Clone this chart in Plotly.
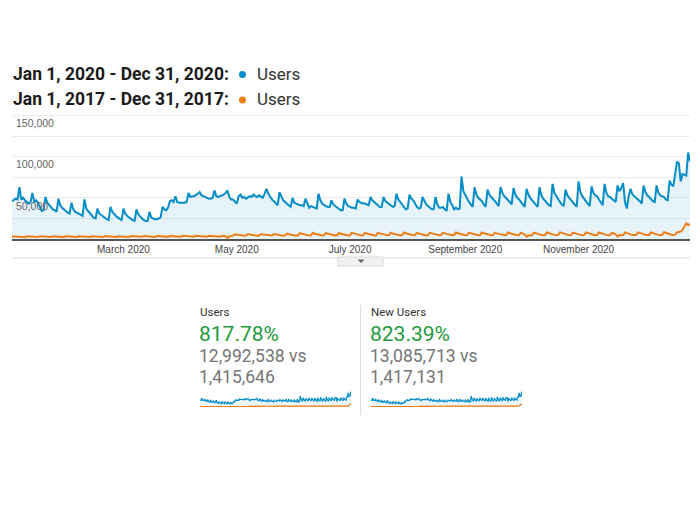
import pandas as pd
import plotly.graph_objects as go

# ---------------- data ----------------
dates = pd.date_range("2020-01-01", "2020-12-31", freq="D")

users_2020 = [
    46000, 47000, 49000, 48000, 63000, 48000, 50000,
    47000, 45000, 43000, 45000, 56000, 45000, 47000,
    44000, 38000, 34000, 35000, 51000, 44000, 41000,
    39000, 36000, 35000, 33000, 49000, 41000, 38000,
    36000, 33000, 32000, 31000, 44000, 36000, 33000,
    32000, 31000, 30000, 28000, 48000, 37000, 34000,
    31000, 29000, 26000, 25000, 37000, 31000, 29000,
    27000, 25000, 24000, 23000, 39000, 33000, 30000,
    28000, 26000, 24000, 23000, 37000, 31000, 28000,
    26000, 24000, 23000, 22000, 36000, 30000, 27000,
    25000, 23000, 22000, 22000, 33000, 26000, 25000,
    24000, 24000, 25000, 26000, 39000, 36000, 35000,
    38000, 46000, 47000, 45000, 52000, 45000, 44000,
    44000, 44000, 44000, 45000, 56000, 51000, 52000,
    52000, 53000, 55000, 57000, 53000, 52000, 51000,
    50000, 49000, 49000, 50000, 59000, 52000, 51000,
    52000, 53000, 54000, 56000, 59000, 51000, 48000,
    48000, 46000, 43000, 52000, 54000, 50000, 51000,
    49000, 50000, 52000, 51000, 54000, 52000, 51000,
    53000, 52000, 50000, 55000, 61000, 55000, 51000,
    48000, 46000, 44000, 41000, 57000, 51000, 47000,
    45000, 43000, 41000, 39000, 50000, 44000, 43000,
    42000, 41000, 41000, 40000, 49000, 43000, 38000,
    40000, 39000, 38000, 37000, 55000, 47000, 43000,
    41000, 40000, 39000, 39000, 47000, 42000, 40000,
    38000, 36000, 35000, 35000, 49000, 43000, 40000,
    39000, 38000, 38000, 37000, 48000, 45000, 44000,
    43000, 43000, 42000, 41000, 51000, 47000, 45000,
    43000, 41000, 39000, 39000, 51000, 46000, 44000,
    42000, 40000, 39000, 40000, 55000, 48000, 45000,
    41000, 38000, 36000, 37000, 54000, 49000, 47000,
    43000, 39000, 37000, 38000, 51000, 46000, 42000,
    40000, 38000, 36000, 36000, 51000, 42000, 38000,
    38000, 39000, 36000, 35000, 55000, 45000, 41000,
    36000, 38000, 36000, 37000, 76000, 58000, 53000,
    49000, 45000, 42000, 39000, 63000, 54000, 50000,
    48000, 46000, 42000, 39000, 60000, 54000, 51000,
    49000, 46000, 43000, 40000, 63000, 56000, 52000,
    50000, 48000, 45000, 42000, 62000, 54000, 50000,
    48000, 45000, 42000, 39000, 61000, 54000, 50000,
    47000, 44000, 41000, 39000, 63000, 53000, 49000,
    46000, 43000, 41000, 40000, 67000, 56000, 52000,
    48000, 45000, 42000, 40000, 60000, 53000, 50000,
    47000, 44000, 42000, 39000, 70000, 57000, 52000,
    49000, 45000, 42000, 40000, 64000, 56000, 53000,
    52000, 48000, 44000, 41000, 67000, 56000, 52000,
    51000, 49000, 47000, 45000, 65000, 58000, 62000,
    68000, 45000, 37000, 52000, 61000, 54000, 52000,
    50000, 49000, 46000, 43000, 65000, 57000, 53000,
    51000, 48000, 46000, 45000, 65000, 56000, 53000,
    52000, 51000, 48000, 47000, 71000, 66000, 64000,
    80000, 94000, 92000, 70000, 79000, 78000, 77000,
    105000, 94000,
]

users_2017 = [
    2300, 3200, 3000, 2800, 2700, 2400, 2100,
    2200, 3300, 3000, 2900, 2700, 2400, 2100,
    2300, 3200, 3100, 2800, 2600, 2300, 2200,
    2400, 3300, 3000, 2900, 2700, 2500, 2200,
    2300, 3400, 3100, 2900, 2800, 2400, 2200,
    2400, 3300, 3100, 2900, 2800, 2500, 2200,
    2500, 3400, 3200, 3000, 2800, 2500, 2300,
    2400, 3500, 3200, 3000, 2900, 2600, 2300,
    2500, 3400, 3300, 3100, 2900, 2500, 2300,
    2500, 3500, 3300, 3100, 2900, 2600, 2300,
    2600, 3600, 3400, 3200, 3000, 2700, 2400,
    2500, 3500, 3300, 3100, 2900, 2600, 2400,
    2600, 3700, 3400, 3200, 3000, 2700, 2500,
    2700, 3800, 3500, 3300, 3100, 2800, 2500,
    2700, 3900, 3600, 3300, 3100, 2800, 2600,
    2800, 4000, 3700, 3400, 3200, 2900, 2600,
    2700, 4000, 3600, 3300, 1300, 3100, 3700,
    4100, 5800, 5300, 5000, 4700, 4200, 3900,
    4200, 5900, 5400, 5000, 4600, 4100, 3900,
    4300, 6100, 5500, 5100, 4800, 4300, 4000,
    4200, 6000, 5400, 5000, 4700, 4200, 3900,
    4400, 6400, 5700, 5200, 4900, 4400, 4100,
    4500, 7200, 6300, 5600, 5200, 4600, 4300,
    4600, 7500, 6400, 5700, 5200, 4700, 4300,
    4500, 7300, 6300, 5600, 5100, 4600, 4300,
    4600, 7400, 6400, 5700, 5200, 4700, 4400,
    4600, 7600, 6800, 6000, 5400, 4800, 4400,
    4700, 7500, 6700, 5900, 5300, 4800, 4400,
    4600, 7700, 6800, 6000, 5400, 4900, 4500,
    4700, 7600, 6700, 6000, 5400, 4800, 4400,
    4800, 7800, 6900, 6100, 5500, 4900, 4500,
    4700, 7500, 6700, 5900, 5300, 4800, 4400,
    4800, 7700, 6800, 6000, 5400, 4900, 4500,
    4700, 7600, 6800, 6100, 5500, 4900, 4500,
    4900, 7900, 7000, 6200, 5600, 5000, 4600,
    4800, 7700, 6900, 6100, 5500, 4900, 4500,
    4900, 7800, 6900, 6100, 5500, 5000, 4600,
    4800, 7600, 6800, 6000, 5400, 4900, 4500,
    4900, 7900, 7000, 6200, 5600, 5000, 4600,
    4700, 7600, 6600, 5800, 2600, 4600, 4400,
    4800, 7800, 6900, 6100, 5500, 4900, 4500,
    4900, 7900, 7000, 6200, 5600, 5000, 4600,
    5000, 8000, 7100, 6300, 5700, 5100, 4700,
    4900, 7800, 6900, 6100, 5500, 5000, 4600,
    5000, 8100, 7100, 6300, 5700, 5100, 4700,
    4900, 7900, 7000, 6200, 5600, 5000, 4600,
    4800, 7600, 6600, 5800, 3000, 4800, 4600,
    4900, 8000, 7000, 6200, 5600, 5000, 4700,
    5000, 8100, 7100, 6300, 5700, 5100, 4800,
    4900, 7900, 7000, 6200, 5600, 5000, 4700,
    5100, 8200, 7200, 6400, 5800, 5200, 4900,
    5300, 8000, 8500, 9000, 11000, 15000, 19000,
    17000, 18000,
]

month_ticks = ["2020-03-01", "2020-05-01", "2020-07-01", "2020-09-01", "2020-11-01"]
month_labels = ["March 2020", "May 2020", "July 2020", "September 2020", "November 2020"]
y_ticks = [50000, 100000, 150000]
y_labels = ["50,000", "100,000", "150,000"]

legend_ranges = ["Jan 1, 2020 - Dec 31, 2020:", "Jan 1, 2017 - Dec 31, 2017:"]
legend_metric = "Users"

card_titles = ["Users", "New Users"]
card_changes = ["817.78%", "823.39%"]
card_current = ["12,992,538", "13,085,713"]
card_previous = ["1,415,646", "1,417,131"]

# -------------- style ---------------
W, H = 700, 509
BLUE = "#058DC7"
ORANGE = "#ED7E17"
FILL = "rgba(5,141,199,0.10)"
FONT = "Roboto, Arial, sans-serif"
AXFONT = "Arial, 'Liberation Sans', sans-serif"


def fx(x):
    return x / W


def fy(y):
    return 1 - y / H


fig = go.Figure()

# main chart
fig.add_trace(go.Scatter(x=dates, y=users_2020, mode="lines",
                         line=dict(color=BLUE, width=2), fill="tozeroy",
                         fillcolor=FILL, hoverinfo="skip", xaxis="x", yaxis="y"))
fig.add_trace(go.Scatter(x=dates, y=users_2017, mode="lines",
                         line=dict(color=ORANGE, width=2),
                         hoverinfo="skip", xaxis="x", yaxis="y"))

# sparklines (same daily series)
for ax in ("2", "3"):
    fig.add_trace(go.Scatter(x=dates, y=users_2020, mode="lines",
                             line=dict(color=BLUE, width=1.2), fill="tozeroy",
                             fillcolor="rgba(5,141,199,0.08)", hoverinfo="skip",
                             xaxis="x" + ax, yaxis="y" + ax))
    fig.add_trace(go.Scatter(x=dates, y=users_2017, mode="lines",
                             line=dict(color=ORANGE, width=1.2), hoverinfo="skip",
                             xaxis="x" + ax, yaxis="y" + ax))

# y scale: 0 at 239px, 150,000 at 115.5px; range extended a little above 150k
Y_TOP = 153000
top_px = 239 - (239 - 115.5) * Y_TOP / 150000

fig.update_layout(
    width=W, height=H, margin=dict(l=0, r=0, t=0, b=0),
    paper_bgcolor="white", plot_bgcolor="rgba(0,0,0,0)", showlegend=False,
    xaxis=dict(type="date", domain=[fx(12), fx(690)],
               range=["2020-01-01", "2020-12-31"],
               tickmode="array", tickvals=month_ticks, ticktext=month_labels,
               showgrid=False, zeroline=False, showline=True,
               linecolor="#555555", linewidth=1.5, ticks="",
               tickfont=dict(family=AXFONT, size=10, color="#444444"),
               anchor="y"),
    yaxis=dict(domain=[fy(239), fy(top_px)], range=[0, Y_TOP],
               tickmode="array", tickvals=y_ticks, ticktext=y_labels,
               ticklabelposition="inside", ticklabelshift=8, ticklabelstandoff=1,
               showgrid=True, gridcolor="#ebebeb", gridwidth=1,
               minor=dict(tickmode="linear", tick0=0, dtick=25000,
                          showgrid=True, gridcolor="#ebebeb", ticks=""),
               zeroline=False, showline=False, ticks="",
               tickfont=dict(family=AXFONT, size=10.5, color="#666666"),
               anchor="x"),
    xaxis2=dict(domain=[fx(200), fx(351)], range=["2020-01-01", "2020-12-31"],
                visible=False, anchor="y2"),
    yaxis2=dict(domain=[fy(407), fy(391)], range=[0, 110000],
                visible=False, anchor="x2"),
    xaxis3=dict(domain=[fx(371), fx(522)], range=["2020-01-01", "2020-12-31"],
                visible=False, anchor="y3"),
    yaxis3=dict(domain=[fy(407), fy(391)], range=[0, 110000],
                visible=False, anchor="x3"),
)

ann = []
shapes = []

# legend rows
for i, (rng, col) in enumerate(zip(legend_ranges, [BLUE, ORANGE])):
    yc = [73.5, 99][i]
    ann.append(dict(x=fx(11), y=fy(yc), xref="paper", yref="paper",
                    text="<b>" + rng + "</b>", showarrow=False,
                    xanchor="left", yanchor="middle",
                    font=dict(family=FONT, size=17.5, color="#1a1a1a")))
    ann.append(dict(x=fx(255), y=fy(yc), xref="paper", yref="paper",
                    text=legend_metric, showarrow=False,
                    xanchor="left", yanchor="middle",
                    font=dict(family=FONT, size=17, color="#333333")))
    shapes.append(dict(type="circle", xref="paper", yref="paper",
                       x0=fx(239), x1=fx(246), y0=fy(yc + 4.5), y1=fy(yc - 2.5),
                       fillcolor=col, line=dict(width=0)))

# separator under the x labels + toggle button
shapes.append(dict(type="line", xref="paper", yref="paper",
                   x0=fx(12), x1=fx(690), y0=fy(258), y1=fy(258),
                   line=dict(color="#dddddd", width=1)))
shapes.append(dict(type="rect", xref="paper", yref="paper",
                   x0=fx(338), x1=fx(383), y0=fy(266), y1=fy(257),
                   fillcolor="#f1f1f1", line=dict(color="#d9d9d9", width=1)))
shapes.append(dict(type="path", xref="paper", yref="paper",
                   path="M {:.5f} {:.5f} L {:.5f} {:.5f} L {:.5f} {:.5f} Z".format(
                       fx(357.5), fy(259.5), fx(364.5), fy(259.5), fx(361), fy(263)),
                   fillcolor="#666666", line=dict(width=0)))

# divider between the two cards
shapes.append(dict(type="line", xref="paper", yref="paper",
                   x0=fx(360.5), x1=fx(360.5), y0=fy(305), y1=fy(415),
                   line=dict(color="#dddddd", width=1)))

# scorecards
for i in range(2):
    x0 = [199, 370][i]
    ann.append(dict(x=fx(x0 - 1), y=fy(311.5), xref="paper", yref="paper",
                    text=card_titles[i], showarrow=False, xanchor="left", yanchor="middle",
                    font=dict(family=FONT, size=11.5, color="#333333")))
    ann.append(dict(x=fx(x0 - 2), y=fy(333.5), xref="paper", yref="paper",
                    text=card_changes[i], showarrow=False, xanchor="left", yanchor="middle",
                    font=dict(family=FONT, size=21, color="#1e9a3d")))
    ann.append(dict(x=fx(x0 - 2), y=fy(356), xref="paper", yref="paper",
                    text=card_current[i] + " vs", showarrow=False, xanchor="left",
                    yanchor="middle", font=dict(family=FONT, size=17.5, color="#757575")))
    ann.append(dict(x=fx(x0 - 2), y=fy(376.5), xref="paper", yref="paper",
                    text=card_previous[i], showarrow=False, xanchor="left",
                    yanchor="middle", font=dict(family=FONT, size=17.5, color="#757575")))

fig.update_layout(annotations=ann, shapes=shapes)

fig.write_html("out.html", config={"displayModeBar": False},
               post_script="document.body.style.margin='0';document.body.style.padding='0';")
